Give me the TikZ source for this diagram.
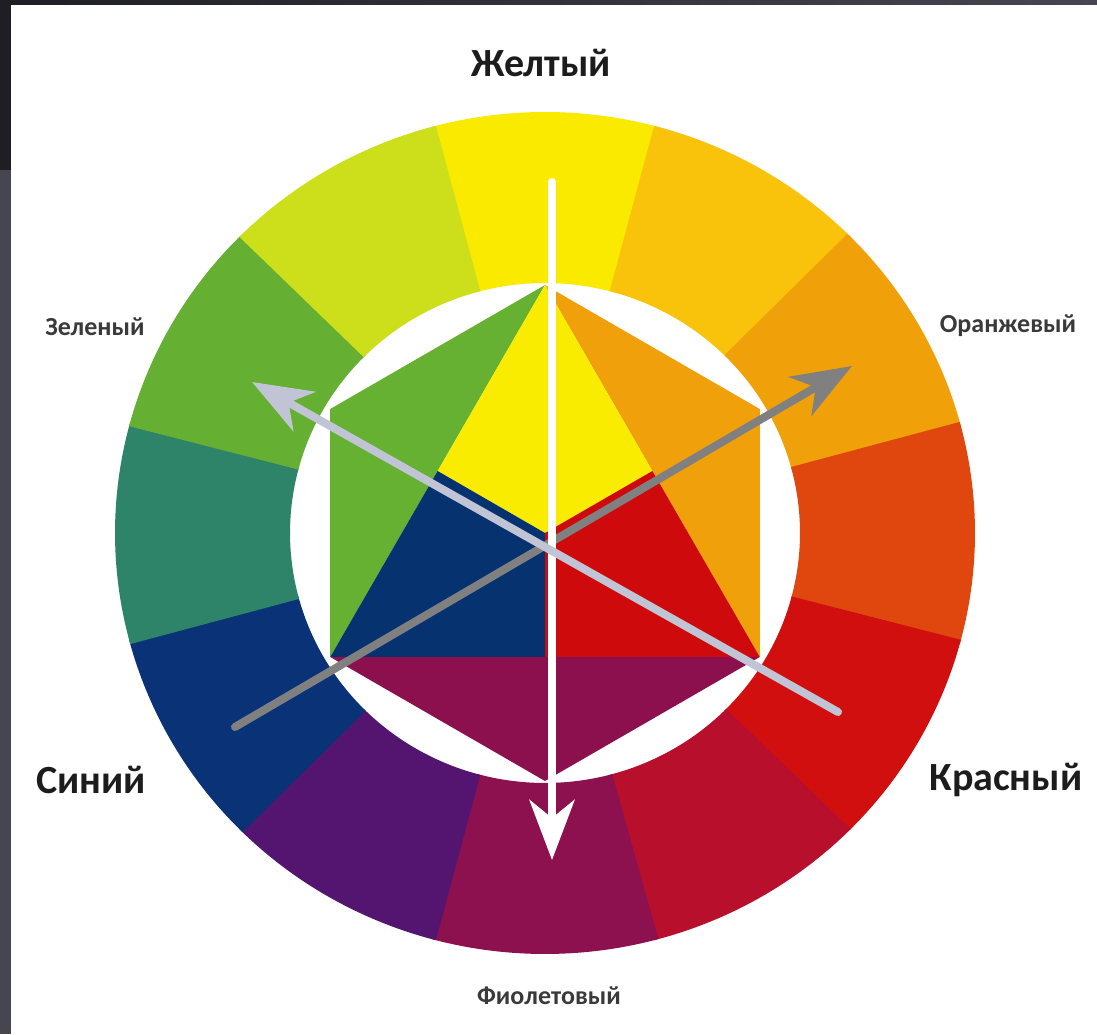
\documentclass[tikz,border=0pt]{standalone}
\usepackage{fontspec}
\setmainfont{Carlito}
\usetikzlibrary{arrows.meta,calc}
% outer ring colours
\definecolor{cY}{RGB}{250,234,0}
\definecolor{cYO}{RGB}{248,195,10}
\definecolor{cO}{RGB}{240,161,10}
\definecolor{cRO}{RGB}{224,71,14}
\definecolor{cR}{RGB}{209,15,15}
\definecolor{cRV}{RGB}{184,16,44}
\definecolor{cV}{RGB}{141,16,79}
\definecolor{cBV}{RGB}{84,21,112}
\definecolor{cB}{RGB}{10,50,119}
\definecolor{cBG}{RGB}{45,132,104}
\definecolor{cG}{RGB}{101,175,50}
\definecolor{cYG}{RGB}{205,222,27}
% centre colours
\definecolor{iY}{RGB}{250,236,0}
\definecolor{iR}{RGB}{206,10,12}
\definecolor{iB}{RGB}{6,50,112}
\definecolor{iG}{RGB}{102,176,50}
\definecolor{iO}{RGB}{239,160,10}
\definecolor{iV}{RGB}{141,16,78}
% frame and arrows
\definecolor{framedark}{RGB}{30,30,36}
\definecolor{framegray}{RGB}{70,70,80}
\definecolor{arrowblue}{RGB}{192,196,212}
\definecolor{arrowgray}{RGB}{128,128,128}
\definecolor{labeldark}{RGB}{28,28,28}
\definecolor{labelgray}{RGB}{58,58,58}
\tikzset{
  wheelarrow/.style={line width=8pt, line cap=round,
    -{Stealth[length=60pt,width=45pt,inset=18pt]}},
  biglabel/.style={font=\bfseries\fontsize{40}{44}\selectfont, text=labeldark, inner sep=0pt},
  smalllabel/.style={font=\bfseries\fontsize{26}{30}\selectfont, text=labelgray, inner sep=0pt}
}
\begin{document}
\begin{tikzpicture}[x=1pt,y=1pt]
\useasboundingbox (0,0) rectangle (1097,1034);
\fill[white] (0,0) rectangle (1097,1034);
\fill[framegray] (0,0) rectangle (11,864);
\fill[framedark] (0,864) rectangle (11,1034);
\shade[left color=framedark,right color=framegray] (0,1029) rectangle (1097,1034);

\coordinate (C) at (545,501);
% outer ring of twelve sectors
\foreach \a/\c in {90/cY, 60/cYO, 30/cO, 0/cRO, -30/cR, -60/cRV, -90/cV, -120/cBV, -150/cB, 180/cBG, 150/cG, 120/cYG} {
  \fill[\c] ($(C)+({\a-15.3}:430 and 421)$)
    arc[start angle=\a-15.3, end angle=\a+15.3, x radius=430pt, y radius=421pt]
    -- ($(C)+({\a+15.3}:255 and 250)$)
    arc[start angle=\a+15.3, end angle=\a-15.3, x radius=255pt, y radius=250pt]
    -- cycle;
}
% hexagon vertices
\coordinate (T)  at ($(C)+(90:248)$);
\coordinate (UR) at ($(C)+(30:248)$);
\coordinate (LR) at ($(C)+(-30:248)$);
\coordinate (B)  at ($(C)+(-90:248)$);
\coordinate (LL) at ($(C)+(-150:248)$);
\coordinate (UL) at ($(C)+(150:248)$);
\coordinate (ML) at ($(T)!0.5!(LL)$);
\coordinate (MR) at ($(T)!0.5!(LR)$);
\coordinate (MB) at ($(LL)!0.5!(LR)$);
% secondary triangles
\fill[iG] (T) -- (UL) -- (LL) -- cycle;
\fill[iO] (T) -- (UR) -- (LR) -- cycle;
\fill[iV] (LL) -- (B) -- (LR) -- cycle;
% primary triangle
\fill[iY] (T) -- (MR) -- (C) -- (ML) -- cycle;
\fill[iR] (MR) -- (LR) -- (MB) -- (C) -- cycle;
\fill[iB] (ML) -- (C) -- (MB) -- (LL) -- cycle;

% arrows
\coordinate (gs) at (235,307);
\coordinate (ge) at (852,668);
\coordinate (ws) at (552,852);
\coordinate (we) at (552,174);
\coordinate (bs) at (838,322);
\coordinate (be) at (252,652);
\draw[wheelarrow, arrowgray] (gs) -- (ge);
\draw[wheelarrow, white] (ws) -- (we);
\draw[wheelarrow, arrowblue] (bs) -- (be);

% labels
\node[biglabel] (yel) at (541,971) {Желтый};
\node[biglabel] (blu) at (91,254) {Синий};
\node[biglabel] (red) at (1006,254) {Красный};
\node[smalllabel] (ora) at (1008,708) {Оранжевый};
\node[smalllabel] (gre) at (95,707) {Зеленый};
\node[smalllabel] (vio) at (549,38) {Фиолетовый};
\end{tikzpicture}
\end{document}
